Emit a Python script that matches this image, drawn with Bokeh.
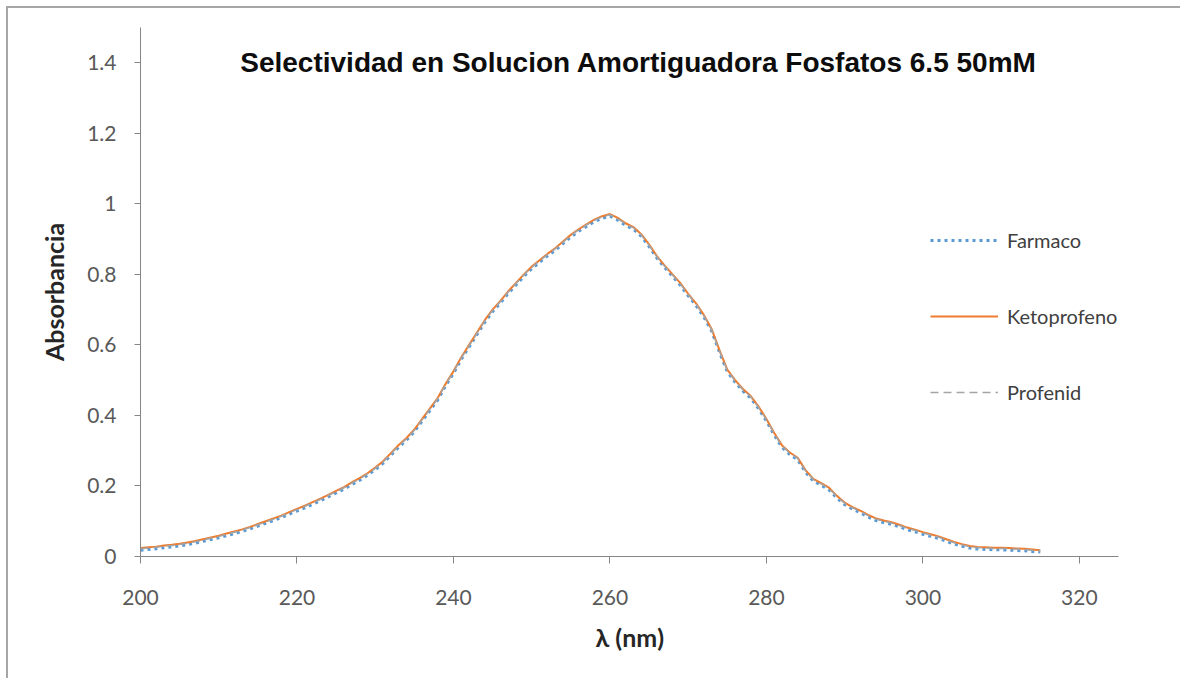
from bokeh.plotting import figure
from bokeh.models import Range1d, FixedTicker, Legend, LegendItem, Label, ColumnDataSource
from bokeh.embed import file_html
from bokeh.resources import INLINE

# ---------------- data ----------------
wavelength = list(range(200, 316))

farmaco = [
    0.018, 0.020, 0.022, 0.025, 0.027, 0.030, 0.034, 0.038, 0.043, 0.048,
    0.053, 0.059, 0.065, 0.071, 0.078, 0.086, 0.094, 0.102, 0.110, 0.120,
    0.129, 0.138, 0.148, 0.158, 0.169, 0.180, 0.191, 0.204, 0.216, 0.230,
    0.246, 0.264, 0.287, 0.310, 0.330, 0.354, 0.384, 0.414, 0.444, 0.484,
    0.519, 0.559, 0.594, 0.629, 0.664, 0.694, 0.719, 0.746, 0.770, 0.794,
    0.816, 0.834, 0.852, 0.868, 0.887, 0.906, 0.922, 0.936, 0.949, 0.959,
    0.965, 0.954, 0.939, 0.928, 0.908, 0.879, 0.846, 0.819, 0.794, 0.769,
    0.739, 0.712, 0.679, 0.639, 0.579, 0.524, 0.494, 0.469, 0.449, 0.419,
    0.384, 0.344, 0.309, 0.289, 0.274, 0.239, 0.214, 0.202, 0.189, 0.166,
    0.147, 0.134, 0.124, 0.112, 0.102, 0.096, 0.091, 0.084, 0.076, 0.070,
    0.063, 0.057, 0.051, 0.043, 0.035, 0.029, 0.024, 0.021, 0.020, 0.019,
    0.019, 0.018, 0.017, 0.016, 0.014, 0.013,
]

ketoprofeno = [
    0.024, 0.026, 0.028, 0.031, 0.033, 0.036, 0.040, 0.044, 0.049, 0.054,
    0.059, 0.065, 0.071, 0.077, 0.084, 0.092, 0.100, 0.108, 0.116, 0.126,
    0.135, 0.144, 0.154, 0.164, 0.175, 0.186, 0.197, 0.210, 0.222, 0.236,
    0.252, 0.270, 0.293, 0.316, 0.336, 0.360, 0.390, 0.420, 0.450, 0.490,
    0.525, 0.565, 0.600, 0.635, 0.670, 0.700, 0.725, 0.752, 0.776, 0.800,
    0.822, 0.840, 0.858, 0.874, 0.893, 0.912, 0.928, 0.942, 0.955, 0.965,
    0.971, 0.960, 0.945, 0.934, 0.914, 0.885, 0.852, 0.825, 0.800, 0.775,
    0.745, 0.718, 0.685, 0.645, 0.585, 0.530, 0.500, 0.475, 0.455, 0.425,
    0.390, 0.350, 0.315, 0.295, 0.280, 0.245, 0.220, 0.208, 0.195, 0.172,
    0.153, 0.140, 0.130, 0.118, 0.108, 0.102, 0.097, 0.090, 0.082, 0.076,
    0.069, 0.063, 0.057, 0.049, 0.041, 0.035, 0.030, 0.027, 0.026, 0.025,
    0.025, 0.024, 0.023, 0.022, 0.020, 0.018,
]

profenid = [
    0.022, 0.024, 0.026, 0.029, 0.031, 0.034, 0.038, 0.042, 0.047, 0.052,
    0.057, 0.063, 0.069, 0.075, 0.082, 0.090, 0.098, 0.106, 0.114, 0.124,
    0.133, 0.142, 0.152, 0.162, 0.173, 0.184, 0.195, 0.208, 0.220, 0.234,
    0.250, 0.268, 0.291, 0.314, 0.334, 0.358, 0.388, 0.418, 0.448, 0.488,
    0.523, 0.563, 0.598, 0.633, 0.668, 0.698, 0.723, 0.750, 0.774, 0.798,
    0.820, 0.838, 0.856, 0.872, 0.891, 0.910, 0.926, 0.940, 0.953, 0.963,
    0.969, 0.958, 0.943, 0.932, 0.912, 0.883, 0.850, 0.823, 0.798, 0.773,
    0.743, 0.716, 0.683, 0.643, 0.583, 0.528, 0.498, 0.473, 0.453, 0.423,
    0.388, 0.348, 0.313, 0.293, 0.278, 0.243, 0.218, 0.206, 0.193, 0.170,
    0.151, 0.138, 0.128, 0.116, 0.106, 0.100, 0.095, 0.088, 0.080, 0.074,
    0.067, 0.061, 0.055, 0.047, 0.039, 0.033, 0.028, 0.025, 0.024, 0.023,
    0.023, 0.022, 0.021, 0.020, 0.018, 0.016,
]

series_names = ["Farmaco", "Ketoprofeno", "Profenid"]
x_ticks = [200, 220, 240, 260, 280, 300, 320]
y_ticks = [0, 0.2, 0.4, 0.6, 0.8, 1, 1.2, 1.4]
y_tick_labels = ["0", "0.2", "0.4", "0.6", "0.8", "1", "1.2", "1.4"]
title_text = "Selectividad en Solucion Amortiguadora Fosfatos 6.5 50mM"
x_label = "λ (nm)"
y_label = "Absorbancia"

# ---------------- figure ----------------
src = ColumnDataSource(dict(w=wavelength, f=farmaco, k=ketoprofeno, p=profenid))

p = figure(
    frame_width=978, frame_height=529,
    x_range=Range1d(200, 325), y_range=Range1d(0, 1.5),
    output_backend="svg", toolbar_location=None,
    min_border_left=132, min_border_top=19, min_border_right=62, min_border_bottom=122,
    background_fill_color="white", border_fill_color="white",
)
p.styles = {
    "border-top": "2px solid #a6a6a6",
    "border-left": "2px solid #a6a6a6",
    "border-right": "none",
    "border-bottom": "none",
    "margin-left": "6px",
    "margin-top": "6px",
}
p.outline_line_color = None
p.xgrid.grid_line_color = None
p.ygrid.grid_line_color = None

for ax in (p.xaxis[0], p.yaxis[0]):
    ax.axis_line_color = "#868686"
    ax.major_tick_line_color = "#868686"
    ax.minor_tick_line_color = None
    ax.major_tick_in = 0
    ax.major_label_text_font = "Lato"
    ax.major_label_text_font_size = "21px"
    ax.major_label_text_color = "#595959"
    ax.axis_label_text_font = "Lato"
    ax.axis_label_text_font_style = "bold"
    ax.axis_label_text_font_size = "25px"
    ax.axis_label_text_color = "#262626"

p.xaxis[0].ticker = FixedTicker(ticks=x_ticks)
p.xaxis[0].major_tick_out = 7
p.xaxis[0].major_label_standoff = 26
p.xaxis[0].axis_label = x_label
p.xaxis[0].axis_label_standoff = 14

p.yaxis[0].ticker = FixedTicker(ticks=y_ticks)
p.yaxis[0].major_label_overrides = {t: s for t, s in zip(y_ticks, y_tick_labels)}
p.yaxis[0].major_tick_out = 6
p.yaxis[0].major_label_standoff = 18
p.yaxis[0].axis_label = y_label
p.yaxis[0].axis_label_standoff = 15

r_f = p.line("w", "f", source=src, line_color="#5B9BD5", line_width=3, line_dash="3 4")
r_k = p.line("w", "k", source=src, line_color="#ED7D31", line_width=2)
r_p = p.line("w", "p", source=src, line_color="#A5A5A5", line_width=1.5, line_dash="8 5")

legend = Legend(
    items=[LegendItem(label=n, renderers=[r]) for n, r in zip(series_names, [r_f, r_k, r_p])],
    location=(790, 152), orientation="vertical",
    glyph_width=68, glyph_height=24, label_height=24, spacing=52,
    padding=0, margin=0, label_standoff=9,
    label_text_font="Lato", label_text_font_size="20px", label_text_color="#404040",
    border_line_alpha=0, background_fill_alpha=0,
)
p.add_layout(legend, "center")

title = Label(
    x=263.66, y=1.40, text=title_text,
    text_align="center", text_baseline="alphabetic",
    text_font="Liberation Sans", text_font_style="bold", text_font_size="28px",
    text_color="#0d0d0d",
)
p.add_layout(title)

open("out.html", "w").write(file_html(p, INLINE))
